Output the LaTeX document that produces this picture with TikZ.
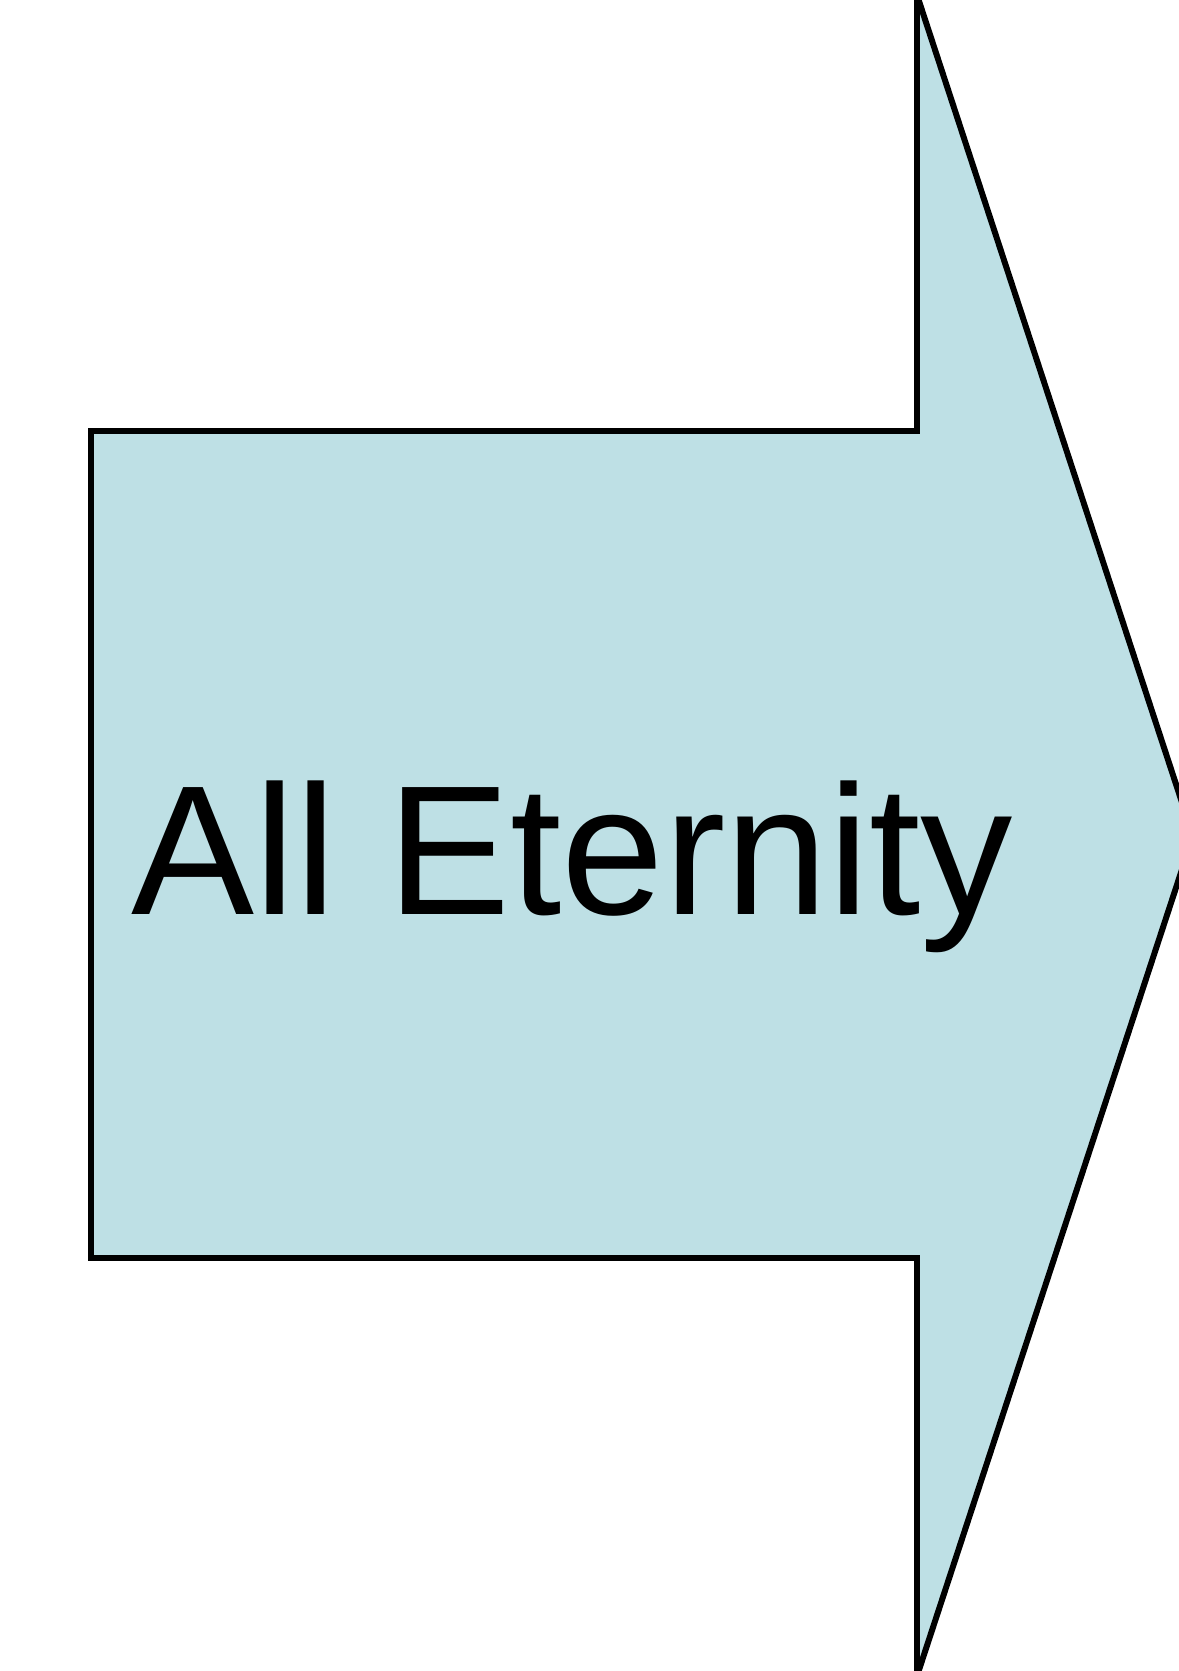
\documentclass[tikz,border=0pt]{standalone}
\usepackage{fontspec}
\setmainfont{Liberation Sans}
\usepackage{xcolor}
\definecolor{arrowblue}{RGB}{190,224,229}

\begin{document}
\begin{tikzpicture}[
  x=0.02cm,
  y=0.02cm,
  every node/.style={font=\fontsize{105}{120}\selectfont},
  bigarrow/.style={fill=arrowblue,draw=black,line width=3.4pt,line join=miter}
]
\useasboundingbox (0,0) rectangle (1178,1671);

% 矢印の形
\coordinate (bodyBL) at (91,413);
\coordinate (bodyTL) at (91,1240);
\coordinate (tip) at (1193,835);
\filldraw[bigarrow]
  (bodyBL)--(bodyTL)--(917,1240)--(917,1676)--(tip)
  --(917,-5)--(917,413)--cycle;

% ラベル
\node[anchor=base west,inner sep=0pt] (label) at (131,756) {All Eternity};
\end{tikzpicture}
\end{document}
